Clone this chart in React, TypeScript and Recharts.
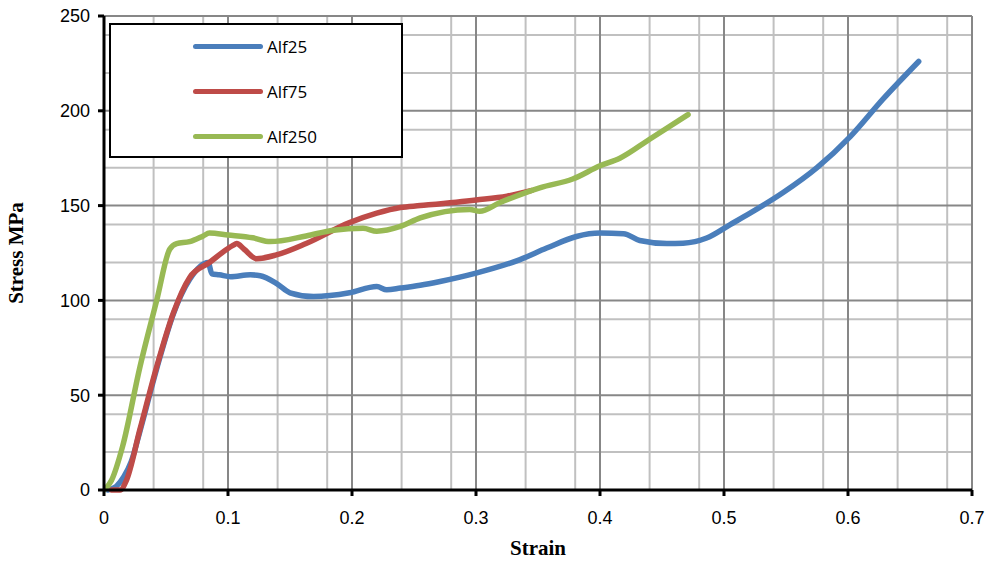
import React from 'react';
import { LineChart, Line, XAxis, YAxis, CartesianGrid } from 'recharts';

const alf25Strain = [0.003, 0.01, 0.016, 0.022, 0.029, 0.0425, 0.056, 0.069, 0.084, 0.087, 0.093, 0.102, 0.118, 0.126, 0.139, 0.15, 0.169, 0.198, 0.22, 0.228, 0.239, 0.255, 0.271, 0.3, 0.335, 0.357, 0.381, 0.4, 0.419, 0.432, 0.454, 0.467, 0.486, 0.505, 0.521, 0.548, 0.575, 0.602, 0.628, 0.657];
const alf25Stress = [0, 2, 7, 15, 31, 64, 93, 111, 120, 114, 113.5, 112.5, 113.5, 113, 109, 104, 102, 104, 107.3, 105.6, 106.5, 108, 110, 114.4, 121.4, 127.6, 133.7, 135.5, 135.2, 131.6, 130, 130.2, 132.9, 140, 146, 157, 170, 186.5, 206, 226];

const alf75Strain = [0.006, 0.013, 0.018, 0.029, 0.0425, 0.056, 0.069, 0.085, 0.104, 0.107, 0.113, 0.123, 0.139, 0.163, 0.198, 0.22, 0.239, 0.255, 0.3, 0.325, 0.345];
const alf75Stress = [0, 0, 5, 32, 65, 93.5, 112, 120, 129, 130, 127, 122, 124, 130, 141, 146, 149, 150, 153, 155, 158];

const alf250Strain = [0, 0.006, 0.015, 0.029, 0.0425, 0.053, 0.0586, 0.069, 0.08, 0.085, 0.1, 0.12, 0.134, 0.163, 0.185, 0.209, 0.22, 0.239, 0.255, 0.295, 0.303, 0.319, 0.352, 0.378, 0.4, 0.416, 0.44, 0.471];
const alf250Stress = [0, 5, 23, 65, 100, 127, 130, 131, 134, 135.5, 134.5, 133, 131, 134, 137, 138, 136.5, 139, 143.5, 148, 147, 151.5, 159.5, 164, 171, 175, 185, 198];

const xTicks = [0, 0.1, 0.2, 0.3, 0.4, 0.5, 0.6, 0.7];
const yTicks = [0, 50, 100, 150, 200, 250];
const xMinor = [0.02, 0.04, 0.06, 0.08, 0.12, 0.14, 0.16, 0.18, 0.22, 0.24, 0.26, 0.28, 0.32, 0.34, 0.36, 0.38, 0.42, 0.44, 0.46, 0.48, 0.52, 0.54, 0.56, 0.58, 0.62, 0.64, 0.66, 0.68];
const yMinor = [10, 20, 30, 40, 60, 70, 80, 90, 110, 120, 130, 140, 160, 170, 180, 190, 210, 220, 230, 240];

const seriesNames = ['Alf25', 'Alf75', 'Alf250'];
const seriesColors = ['#4a7ebb', '#be4b48', '#98b954'];

const zip = (xs: number[], ys: number[]) => xs.map((x, i) => ({ strain: x, stress: ys[i] }));
const series = [zip(alf25Strain, alf25Stress), zip(alf75Strain, alf75Stress), zip(alf250Strain, alf250Stress)];

const tickFont = { fontFamily: '"Liberation Sans Narrow", "Liberation Sans", sans-serif', fontSize: 18, fill: '#000' };
const titleFont = { fontFamily: '"Liberation Serif", "DejaVu Serif", serif', fontWeight: 'bold' as const, fontSize: 21, fill: '#000' };

const LegendBox = () => (
  <div style={{ position: 'absolute', left: 109, top: 23, width: 290, height: 131, border: '2px solid #000', background: '#fff', fontFamily: '"Open Sans", "Liberation Sans", sans-serif', fontSize: 17 }}>
    {seriesNames.map((n, i) => (
      <div key={n} style={{ position: 'absolute', left: 82, top: 8 + i * 45, height: 26, display: 'flex', alignItems: 'center' }}>
        <div style={{ width: 70, height: 5, borderRadius: 3, background: seriesColors[i], marginRight: 4 }} />
        <span>{n}</span>
      </div>
    ))}
  </div>
);

export default function App() {
  return (
    <div style={{ position: 'absolute', left: 0, top: 0, width: 985, height: 561, background: '#fff' }}>
      <LineChart width={985} height={561} margin={{ top: 16, right: 13, bottom: 0, left: 0 }}>
        <CartesianGrid stroke="#c0c0c0" strokeWidth={2} verticalValues={xMinor} horizontalValues={yMinor} />
        <CartesianGrid stroke="#878787" strokeWidth={2} verticalValues={xTicks} horizontalValues={yTicks} />
        <XAxis
          type="number"
          dataKey="strain"
          domain={[0, 0.7]}
          ticks={xTicks}
          allowDataOverflow
          height={71}
          tick={tickFont}
          tickSize={6}
          tickMargin={15}
          stroke="#000"
          strokeWidth={3}
          label={{ value: 'Strain', position: 'insideBottom', offset: 6, style: titleFont }}
        />
        <YAxis
          type="number"
          dataKey="stress"
          domain={[0, 250]}
          ticks={yTicks}
          width={104}
          tick={tickFont}
          tickSize={6}
          tickMargin={8}
          stroke="#000"
          strokeWidth={3}
          label={{ value: 'Stress MPa', angle: -90, position: 'insideLeft', offset: 16, style: { ...titleFont, textAnchor: 'middle' } }}
        />
        {series.map((d, i) => (
          <Line
            key={seriesNames[i]}
            data={d}
            dataKey="stress"
            name={seriesNames[i]}
            type="monotone"
            stroke={seriesColors[i]}
            strokeWidth={5.5}
            strokeLinecap="round"
            strokeLinejoin="round"
            dot={false}
            isAnimationActive={false}
          />
        ))}
      </LineChart>
      <LegendBox />
    </div>
  );
}
